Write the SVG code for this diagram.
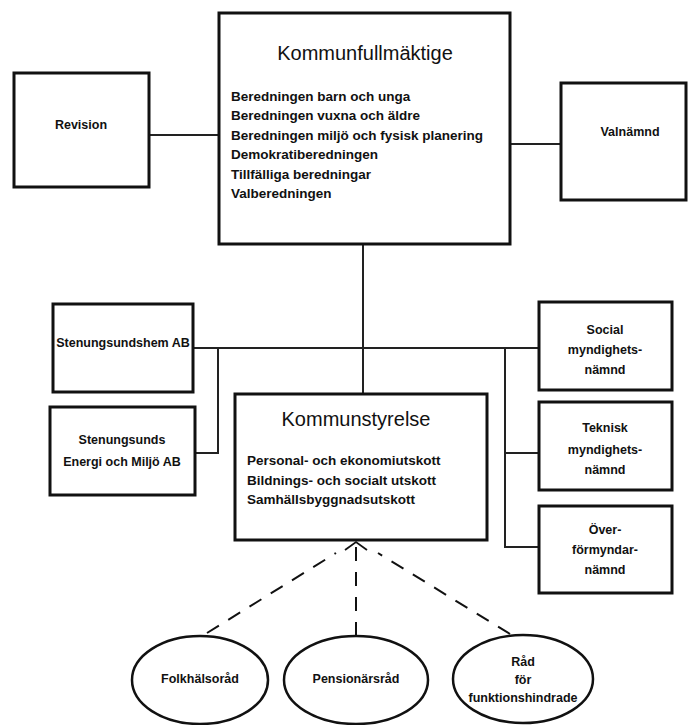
<svg xmlns="http://www.w3.org/2000/svg" width="688" height="725" viewBox="0 0 688 725">
<style>
.box{fill:#fff;stroke:#111;stroke-width:3}
.ell{fill:#fff;stroke:#111;stroke-width:2.5}
.ln{fill:none;stroke:#222;stroke-width:2}
.dash{fill:none;stroke:#111;stroke-width:2;stroke-dasharray:14 11}
text{font-family:"Liberation Sans",Arial,sans-serif;fill:#111}
.t{font-size:12.5px;font-weight:bold}
.l{font-size:13.5px;font-weight:bold}
.c{text-anchor:middle}
.title{font-size:20px}
</style>
<defs>
<marker id="arr" viewBox="0 0 12 24" refX="10" refY="12" markerWidth="12" markerHeight="24" markerUnits="userSpaceOnUse" orient="auto">
<path d="M2,1 L10,12 L2,23" fill="none" stroke="#111" stroke-width="1.8"/>
</marker>
</defs>
<g id="connectors">
<line class="ln" x1="149" y1="135" x2="219" y2="135"/>
<line class="ln" x1="510" y1="144" x2="561" y2="144"/>
<line class="ln" x1="363" y1="244" x2="363" y2="394"/>
<line class="ln" x1="193" y1="348" x2="539" y2="348"/>
<polyline class="ln" points="195,453 218,453 218,348"/>
<polyline class="ln" points="505,348 505,547 539,547"/>
<line class="ln" x1="505" y1="453" x2="539" y2="453"/>
<line class="dash" x1="207" y1="633" x2="336" y2="553"/>
<line class="dash" x1="510" y1="634" x2="378" y2="553"/>
<line class="dash" x1="356" y1="636" x2="356" y2="545"/>
<line x1="356" y1="552" x2="356" y2="542" stroke="none" marker-end="url(#arr)"/>
</g>
<g id="kommunfullmaktige">
<rect class="box" x="219" y="13" width="291" height="231"/>
<text class="title c" x="365" y="60">Kommunfullmäktige</text>
<text class="l" x="231" y="101">Beredningen barn och unga</text>
<text class="l" x="231" y="120">Beredningen vuxna och äldre</text>
<text class="l" x="231" y="140">Beredningen miljö och fysisk planering</text>
<text class="l" x="231" y="159">Demokratiberedningen</text>
<text class="l" x="231" y="179">Tillfälliga beredningar</text>
<text class="l" x="231" y="198">Valberedningen</text>
</g>
<g id="revision">
<rect class="box" x="14" y="73" width="135" height="114"/>
<text class="t c" x="81" y="129">Revision</text>
</g>
<g id="valnamnd">
<rect class="box" x="561" y="83" width="125" height="117"/>
<text class="t c" x="630" y="136">Valnämnd</text>
</g>
<g id="stenungsundshem">
<rect class="box" x="53" y="304" width="140" height="88"/>
<text class="t c" x="123" y="347">Stenungsundshem AB</text>
</g>
<g id="energi">
<rect class="box" x="50" y="407" width="145" height="88"/>
<text class="t c" x="122" y="444">Stenungsunds</text>
<text class="t c" x="122" y="466">Energi och Miljö AB</text>
</g>
<g id="kommunstyrelse">
<rect class="box" x="235" y="394" width="252" height="146"/>
<text class="title c" x="356" y="426">Kommunstyrelse</text>
<text class="l" x="247" y="465">Personal- och ekonomiutskott</text>
<text class="l" x="247" y="485">Bildnings- och socialt utskott</text>
<text class="l" x="247" y="504">Samhällsbyggnadsutskott</text>
</g>
<g id="social">
<rect class="box" x="539" y="302" width="133" height="88"/>
<text class="t c" x="605" y="334">Social</text>
<text class="t c" x="605" y="354">myndighets-</text>
<text class="t c" x="605" y="374">nämnd</text>
</g>
<g id="teknisk">
<rect class="box" x="539" y="402" width="133" height="88"/>
<text class="t c" x="605" y="432">Teknisk</text>
<text class="t c" x="605" y="454">myndighets-</text>
<text class="t c" x="605" y="474">nämnd</text>
</g>
<g id="overformyndar">
<rect class="box" x="539" y="506" width="133" height="87"/>
<text class="t c" x="605" y="534">Över-</text>
<text class="t c" x="605" y="554">förmyndar-</text>
<text class="t c" x="605" y="574">nämnd</text>
</g>
<g id="folkhalsorad">
<ellipse class="ell" cx="200" cy="680" rx="68" ry="44"/>
<text class="t c" x="200" y="683">Folkhälsoråd</text>
</g>
<g id="pensionarsrad">
<ellipse class="ell" cx="356" cy="680" rx="72" ry="44"/>
<text class="t c" x="356" y="683">Pensionärsråd</text>
</g>
<g id="radfunktion">
<ellipse class="ell" cx="523" cy="679" rx="70" ry="44"/>
<text class="t c" x="523" y="666">Råd</text>
<text class="t c" x="523" y="684">för</text>
<text class="t c" x="523" y="702">funktionshindrade</text>
</g>
</svg>
